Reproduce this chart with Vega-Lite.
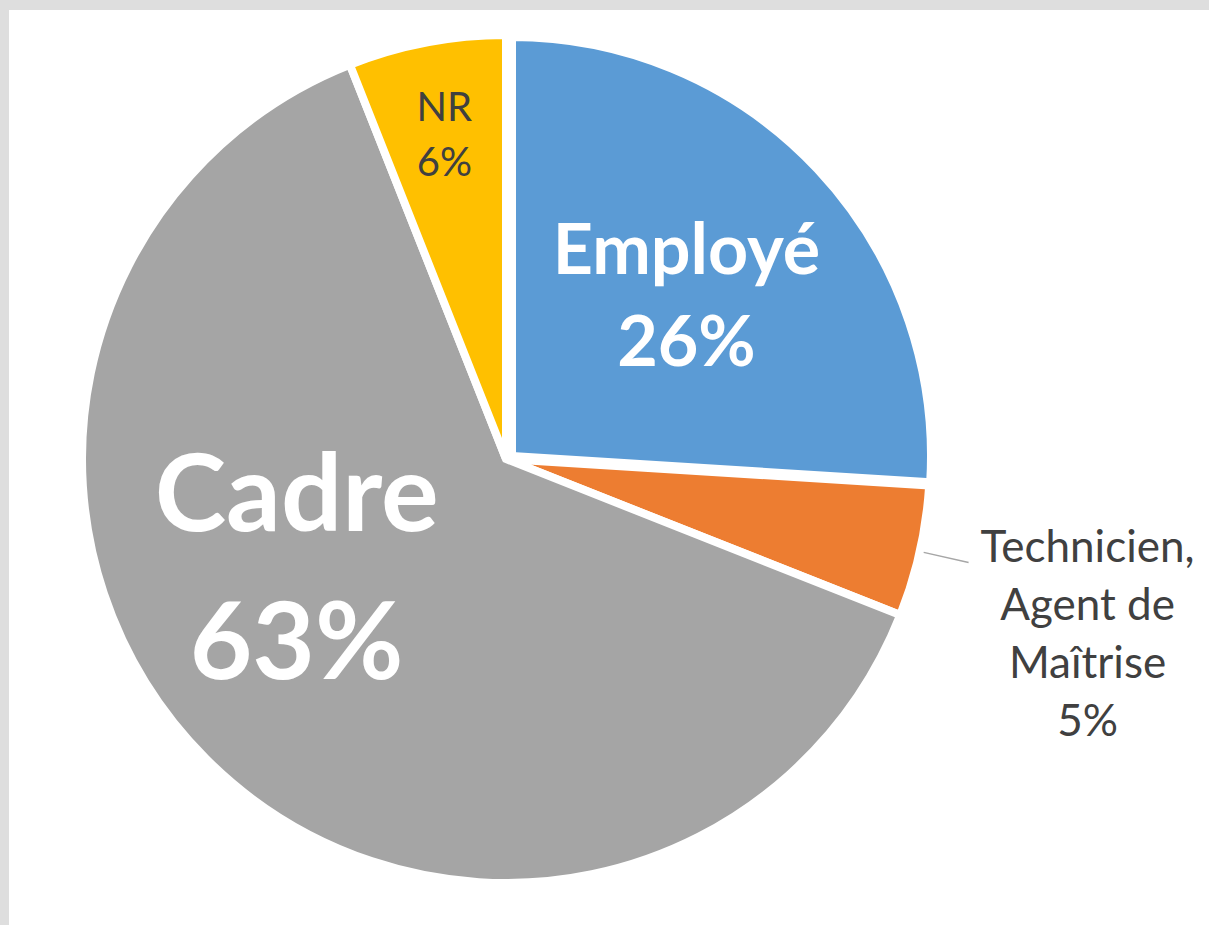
{
  "$schema": "https://vega.github.io/schema/vega-lite/v6.json",
  "autosize": "none",
  "width": 1200,
  "height": 915,
  "padding": {"left": 9, "top": 10, "right": 0, "bottom": 0},
  "background": "#dedede",
  "view": {"fill": "white", "stroke": null},
  "config": {"view": {"fill": "white", "stroke": null}, "font": "Lato"},
  "data": {
    "values": [
      {"category": "Employé", "value": 26, "rank": 1, "label": "Employé\n26%"},
      {"category": "Technicien, Agent de Maîtrise", "value": 5, "rank": 2, "label": "Technicien,\nAgent de\nMaîtrise\n5%"},
      {"category": "Cadre", "value": 63, "rank": 3, "label": "Cadre\n63%"},
      {"category": "NR", "value": 6, "rank": 4, "label": "NR\n6%"}
    ]
  },
  "encoding": {
    "theta": {"field": "value", "type": "quantitative", "stack": true},
    "order": {"field": "rank", "type": "quantitative"}
  },
  "layer": [
    {
      "mark": {"type": "arc", "outerRadius": 424, "x": 497, "y": 449, "stroke": "white", "strokeWidth": 8},
      "encoding": {
        "color": {
          "field": "category", "type": "nominal", "legend": null,
          "scale": {"domain": ["Employé", "Technicien, Agent de Maîtrise", "Cadre", "NR"], "range": ["#5B9BD5", "#ED7D31", "#A5A5A5", "#FFC000"]}
        },
        "opacity": {"condition": {"test": "datum.category === 'Employé'", "value": 0}, "value": 1}
      }
    },
    {
      "mark": {"type": "arc", "outerRadius": 419, "x": 497, "y": 449, "xOffset": 6, "yOffset": -3, "stroke": "white", "strokeWidth": 8},
      "encoding": {
        "color": {
          "field": "category", "type": "nominal", "legend": null,
          "scale": {"domain": ["Employé", "Technicien, Agent de Maîtrise", "Cadre", "NR"], "range": ["#5B9BD5", "#ED7D31", "#A5A5A5", "#FFC000"]}
        },
        "opacity": {"condition": {"test": "datum.category === 'Employé'", "value": 1}, "value": 0}
      }
    },
    {
      "mark": {"type": "arc", "innerRadius": 428, "outerRadius": 474, "padAngle": 0.6, "x": 497, "y": 449, "fill": "transparent", "stroke": "#a6a6a6", "strokeWidth": 1.5},
      "encoding": {
        "strokeOpacity": {"condition": {"test": "datum.category === 'Technicien, Agent de Maîtrise'", "value": 1}, "value": 0}
      }
    },
    {
      "mark": {"type": "text", "x": 497, "y": 449, "radius": 242, "dx": 4, "dy": -40, "lineBreak": "\n", "fontSize": 70, "fontWeight": "bold", "lineHeight": 92, "fill": "white", "align": "center", "baseline": "middle"},
      "encoding": {"text": {"condition": {"test": "datum.category === 'Employé'", "field": "label"}, "value": ""}}
    },
    {
      "mark": {"type": "text", "x": 497, "y": 449, "radius": 224, "dx": -51, "dy": -118, "lineBreak": "\n", "fontSize": 108, "fontWeight": "bold", "lineHeight": 148, "fill": "white", "align": "center", "baseline": "middle"},
      "encoding": {"text": {"condition": {"test": "datum.category === 'Cadre'", "field": "label"}, "value": ""}}
    },
    {
      "mark": {"type": "text", "x": 497, "y": 449, "radius": 329, "dy": -27, "lineBreak": "\n", "fontSize": 40, "lineHeight": 55, "fill": "#404040", "align": "center", "baseline": "middle"},
      "encoding": {"text": {"condition": {"test": "datum.category === 'NR'", "field": "label"}, "value": ""}}
    },
    {
      "mark": {"type": "text", "x": 497, "y": 449, "radius": 600, "dx": -4, "dy": -41, "lineBreak": "\n", "fontSize": 44, "lineHeight": 58, "fill": "#404040", "align": "center", "baseline": "middle"},
      "encoding": {"text": {"condition": {"test": "datum.category === 'Technicien, Agent de Maîtrise'", "field": "label"}, "value": ""}}
    }
  ]
}
